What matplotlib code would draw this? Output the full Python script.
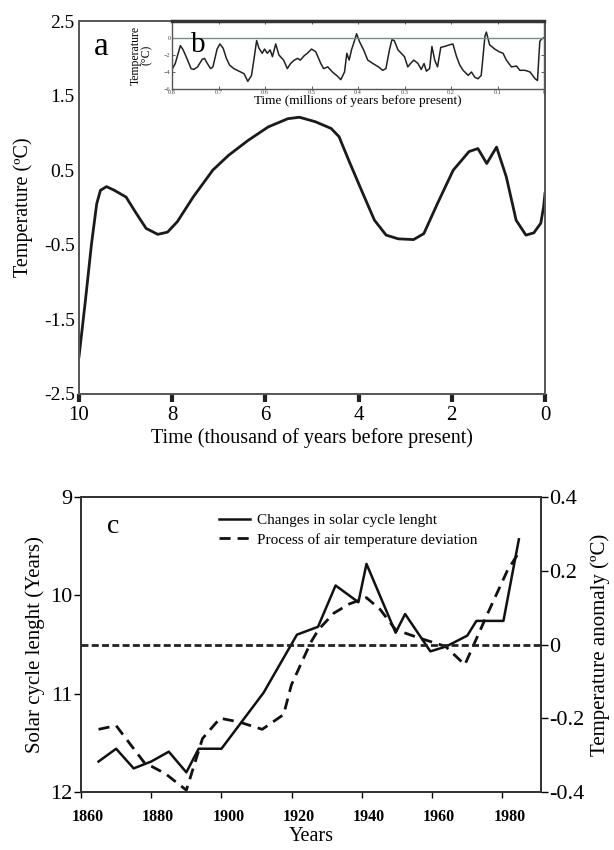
import numpy as np
import matplotlib
matplotlib.use('Agg')
import matplotlib.pyplot as plt
import matplotlib.transforms as mtransforms

plt.rcParams['font.family'] = ['Liberation Serif', 'DejaVu Serif']

# panel a: Holocene temperature (thousand years before present)
kyr_a = [10.0, 9.87, 9.73, 9.62, 9.54, 9.41, 9.24, 8.99, 8.77, 8.56, 8.31, 8.10, 7.89,
         7.55, 7.13, 6.79, 6.37, 5.94, 5.52, 5.27, 4.93, 4.59, 4.42, 4.21, 3.91, 3.66,
         3.41, 3.15, 2.82, 2.60, 2.31, 1.97, 1.63, 1.44, 1.25, 1.04, 0.83, 0.62, 0.41,
         0.24, 0.09, 0.03, 0.0]
temp_a = [-2.0, -1.29, -0.48, 0.05, 0.23, 0.28, 0.23, 0.14, -0.08, -0.28, -0.36, -0.33, -0.19,
          0.14, 0.50, 0.70, 0.90, 1.08, 1.19, 1.21, 1.15, 1.06, 0.95, 0.63, 0.19, -0.17,
          -0.37, -0.42, -0.43, -0.35, 0.05, 0.50, 0.75, 0.79, 0.59, 0.81, 0.41, -0.17, -0.37,
          -0.34, -0.21, 0.01, 0.19]

# panel b: last 0.8 million years
myr_b = [0.799, 0.793, 0.782, 0.776, 0.768, 0.759, 0.753, 0.745, 0.735, 0.730, 0.724, 0.717,
         0.712, 0.703, 0.697, 0.690, 0.683, 0.676, 0.667, 0.656, 0.645, 0.637, 0.629, 0.624,
         0.618, 0.613, 0.606, 0.601, 0.595, 0.589, 0.584, 0.577, 0.570, 0.560, 0.552, 0.545,
         0.537, 0.530, 0.524, 0.516, 0.509, 0.500, 0.491, 0.480, 0.474, 0.465, 0.455, 0.444,
         0.437, 0.429, 0.424, 0.419, 0.414, 0.408, 0.403, 0.397, 0.388, 0.379, 0.368, 0.356,
         0.347, 0.340, 0.332, 0.327, 0.322, 0.314, 0.307, 0.300, 0.293, 0.287, 0.280, 0.271,
         0.264, 0.258, 0.253, 0.246, 0.241, 0.235, 0.229, 0.222, 0.214, 0.203, 0.196, 0.188,
         0.181, 0.174, 0.163, 0.156, 0.149, 0.142, 0.135, 0.127, 0.124, 0.117, 0.106, 0.097,
         0.088, 0.081, 0.070, 0.059, 0.052, 0.041, 0.030, 0.019, 0.014, 0.009, 0.005, 0.001]
temp_b = [-3.6, -3.0, -0.9, -1.4, -2.4, -3.6, -3.7, -3.4, -2.5, -2.4, -3.0, -3.6,
          -3.4, -1.3, -0.7, -1.2, -2.4, -3.2, -3.6, -3.9, -4.2, -5.1, -4.4, -2.6,
          -0.3, -1.2, -1.8, -1.3, -1.8, -1.4, -2.2, -0.7, -2.0, -2.6, -3.6, -3.0,
          -2.6, -2.4, -2.6, -2.1, -1.8, -1.3, -1.6, -3.0, -3.6, -3.4, -4.0, -4.5,
          -4.9, -4.0, -1.8, -2.6, -1.4, -0.4, 0.5, -0.4, -1.4, -2.6, -3.0, -3.4,
          -3.8, -3.6, -1.3, -0.2, -0.3, -1.4, -1.8, -2.2, -3.4, -3.0, -2.6, -3.0,
          -3.7, -3.0, -3.9, -3.6, -1.0, -2.6, -3.4, -1.1, -1.0, -0.8, -0.7, -2.2,
          -3.2, -3.8, -4.4, -4.0, -4.6, -4.8, -4.4, 0.2, 0.7, -0.8, -1.3, -1.6,
          -1.8, -2.6, -3.4, -3.3, -3.8, -3.8, -4.0, -4.8, -5.0, -0.4, -0.1, 0.0]

# panel c: solar cycle length and temperature anomaly
yr_sol = [1865, 1870, 1875, 1880, 1885, 1890, 1893.5, 1900, 1912, 1921.5, 1927.5, 1932.5,
          1939, 1941.3, 1949.6, 1952.3, 1959.5, 1964, 1970, 1972.6, 1980.3, 1984.7]
solar_len = [11.69, 11.56, 11.76, 11.69, 11.59, 11.80, 11.56, 11.56, 10.99, 10.40, 10.32, 9.90,
             10.07, 9.68, 10.38, 10.19, 10.57, 10.52, 10.41, 10.26, 10.26, 9.43]
yr_tmp = [1865, 1870, 1878, 1884, 1890, 1894.6, 1899.6, 1905, 1911.6, 1917.7, 1919.9, 1925.4,
          1927.6, 1932, 1936.4, 1941.3, 1945.2, 1949.6, 1956.2, 1963.8, 1969.3, 1975.9,
          1981.4, 1984.7]
temp_anom = [-0.23, -0.22, -0.32, -0.35, -0.395, -0.255, -0.20, -0.21, -0.23, -0.19, -0.11, 0.005,
             0.04, 0.085, 0.11, 0.127, 0.095, 0.04, 0.018, -0.005, -0.055, 0.086,
             0.20, 0.25]

fig = plt.figure(figsize=(6.14, 8.5), dpi=100)

# ---- panel a
ax = fig.add_axes([79/614, 1-394/850, 466/614, 373/850])
ax.plot(kyr_a, temp_a, color='#1a1a1a', lw=2)
ax.set_xlim(10, 0)
ax.set_ylim(-2.5, 2.5)
ax.set_xticks([10, 8, 6, 4, 2, 0])
ax.set_yticks([2.5, 1.5, 0.5, -0.5, -1.5, -2.5])
ax.set_yticklabels(['2.5', '1.5', '0.5', '-0.5', '-1.5', '-2.5'])
ax.tick_params(axis='x', direction='out', length=6, width=3, labelsize=15, pad=3, color='#222')
ax.tick_params(axis='y', length=0, labelsize=14, pad=3)
for s in ax.spines.values():
    s.set_color('#555')
    s.set_linewidth(1.4)
ax.set_xlabel('Time (thousand of years before present)', fontsize=14.5, labelpad=2)
ax.set_ylabel('Temperature (ºC)', fontsize=14.5, labelpad=8)
ax.text(0.047, 0.93, 'a', transform=ax.transAxes, fontsize=24, va='center', ha='center')

# ---- panel b (inset)
axb = fig.add_axes([172/614, 1-89/850, 372/614, 68/850])
axb.plot(myr_b, temp_b, color='#222', lw=1.1)
axb.axhline(0, color='#6f9090', lw=1)
axb.set_xlim(0.8, 0)
axb.set_ylim(-6, 2)
axb.set_xticks([0.8, 0.7, 0.6, 0.5, 0.4, 0.3, 0.2, 0.1, 0])
axb.set_xticklabels(['0.8', '0.7', '0.6', '0.5', '0.4', '0.3', '0.2', '0.1', '0'])
axb.set_yticks([0, -2, -4, -6])
axb.tick_params(direction='in', length=2, width=0.6, labelsize=4.5, pad=1,
                top=True, right=True, colors='#444')
for s in axb.spines.values():
    s.set_color('#555')
    s.set_linewidth(1)
axb.spines['top'].set_linewidth(2.5)
axb.spines['top'].set_color('#333')
axb.set_xlabel('Time (millions of years before present)', fontsize=9.5, labelpad=0)
axb.set_ylabel('Temperature\n(°C)', fontsize=8.5, labelpad=8, linespacing=0.9)
axb.text(0.07, 0.65, 'b', transform=axb.transAxes, fontsize=21, va='center', ha='center')

# ---- panel c
axc = fig.add_axes([81/614, 1-792/850, 460/614, 295/850])
l1, = axc.plot(yr_sol, solar_len, color='#111', lw=1.8, label='Changes in solar cycle lenght')
axc.set_xlim(1860, 1991)
axc.set_ylim(12, 9)
axc.set_yticks([9, 10, 11, 12])
axc.set_xticks([1860, 1880, 1900, 1920, 1940, 1960, 1980])
axc.tick_params(axis='y', direction='out', length=5, width=1, labelsize=16, pad=1)
axc.tick_params(axis='x', direction='out', length=4, width=1, pad=8)
shift = mtransforms.ScaledTranslation(7/100, 0, fig.dpi_scale_trans)
for lab in axc.get_xticklabels():
    lab.set_fontsize(11.5)
    lab.set_fontweight('bold')
    lab.set_transform(lab.get_transform() + shift)
axc.set_xlabel('Years', fontsize=14.5, labelpad=2)
axc.set_ylabel('Solar cycle lenght (Years)', fontsize=15, labelpad=4)
for s in axc.spines.values():
    s.set_color('#333')
    s.set_linewidth(1.3)

axt = axc.twinx()
l2, = axt.plot(yr_tmp, temp_anom, color='#111', lw=2, ls=(0, (4, 2.5)),
               label='Process of air temperature deviation')
axt.axhline(0, color='#222', lw=2, ls=(0, (2.5, 1.2)))
axt.set_ylim(-0.4, 0.4)
axt.set_yticks([0.4, 0.2, 0, -0.2, -0.4])
axt.set_yticklabels(['0.4', '0.2', '0', '-0.2', '-0.4'])
axt.tick_params(axis='y', direction='out', length=5, width=1, labelsize=16, pad=1)
axt.set_ylabel('Temperature anomaly (ºC)', fontsize=15, labelpad=4)
for s in axt.spines.values():
    s.set_color('#333')
    s.set_linewidth(1.3)

axc.legend(handles=[l1, l2], loc='upper left', bbox_to_anchor=(0.27, 0.99), frameon=False,
           fontsize=11, handlelength=2.0, handletextpad=0.5, labelspacing=0.35)
axc.text(0.07, 0.9, 'c', transform=axc.transAxes, fontsize=20, va='center', ha='center')

fig.savefig('out.png', dpi=100)
